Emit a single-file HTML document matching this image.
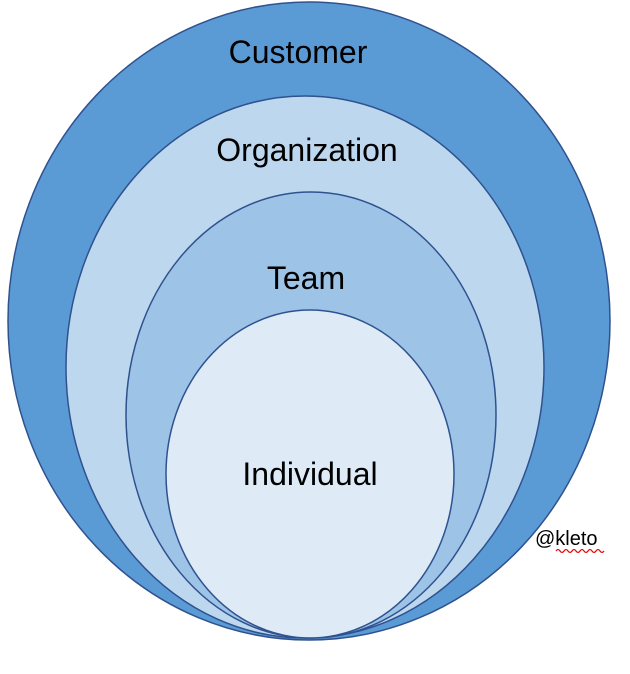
<!DOCTYPE html>
<html><head><meta charset="utf-8"><style>
html,body{margin:0;padding:0;background:#fff;}
svg{display:block;}
text{font-family:"Liberation Sans",sans-serif;fill:#000;}
</style></head><body>
<svg width="630" height="674" viewBox="0 0 630 674">
<ellipse cx="309" cy="321" rx="301" ry="319" fill="#5b9bd5" stroke="#2f528f" stroke-width="1.5"/>
<ellipse cx="305" cy="367" rx="239" ry="271" fill="#bdd7ee" stroke="#2f528f" stroke-width="1.5"/>
<ellipse cx="311" cy="415" rx="185" ry="223" fill="#9dc3e6" stroke="#2f528f" stroke-width="1.5"/>
<ellipse cx="310" cy="474" rx="144" ry="164" fill="#deebf7" stroke="#2f528f" stroke-width="1.5"/>
<text x="298" y="63" font-size="32" text-anchor="middle">Customer</text>
<text x="307" y="161" font-size="32" text-anchor="middle">Organization</text>
<text x="306" y="289" font-size="32" text-anchor="middle">Team</text>
<text x="310" y="485" font-size="32" text-anchor="middle">Individual</text>
<text x="535" y="545" font-size="20">@kleto</text>
<path d="M556 551 q2 -3 4 0 t4 0 t4 0 t4 0 t4 0 t4 0 t4 0 t4 0 t4 0 t4 0 t4 0 t4 0" fill="none" stroke="#e00" stroke-width="1.2"/>
</svg>
</body></html>
